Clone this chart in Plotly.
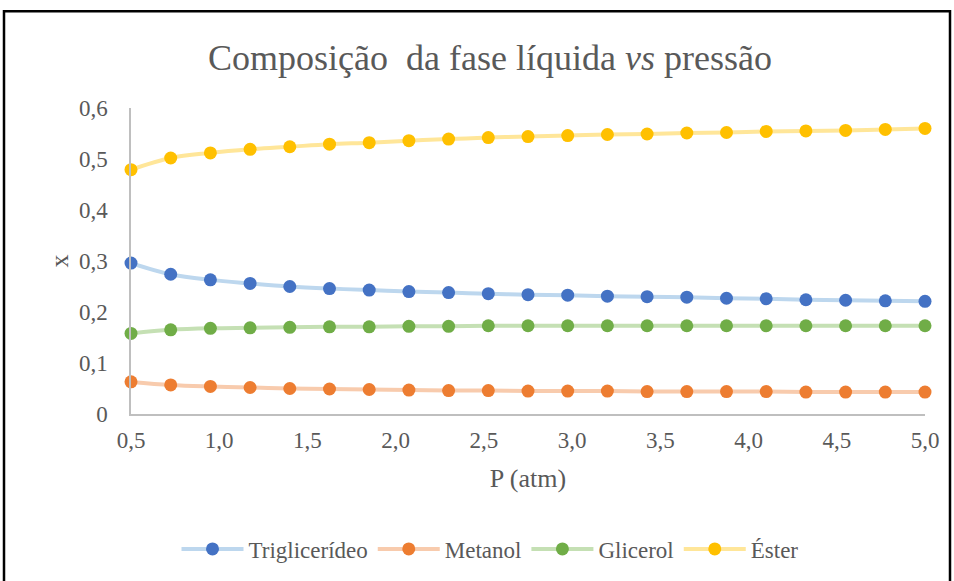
import plotly.graph_objects as go

pressao = [0.5, 0.725, 0.95, 1.175, 1.4, 1.625, 1.85, 2.075, 2.3, 2.525, 2.75,
           2.975, 3.2, 3.425, 3.65, 3.875, 4.1, 4.325, 4.55, 4.775, 5.0]
triglicerideo = [0.296, 0.274, 0.263, 0.256, 0.250, 0.246, 0.243, 0.240, 0.238, 0.236, 0.234,
                 0.233, 0.231, 0.230, 0.229, 0.227, 0.226, 0.224, 0.223, 0.222, 0.221]
metanol = [0.063, 0.057, 0.054, 0.052, 0.050, 0.049, 0.048, 0.047, 0.046, 0.046, 0.045,
           0.045, 0.045, 0.044, 0.044, 0.044, 0.044, 0.043, 0.043, 0.043, 0.043]
glicerol = [0.158, 0.165, 0.168, 0.169, 0.170, 0.171, 0.171, 0.172, 0.172, 0.173, 0.173,
            0.173, 0.173, 0.173, 0.173, 0.173, 0.173, 0.173, 0.173, 0.173, 0.173]
ester = [0.479, 0.502, 0.512, 0.519, 0.524, 0.529, 0.532, 0.536, 0.539, 0.542, 0.544,
         0.546, 0.548, 0.549, 0.551, 0.552, 0.554, 0.555, 0.556, 0.558, 0.560]

series = [
    ("Triglicerídeo", triglicerideo, "#4472C4", "#BDD7EE"),
    ("Metanol", metanol, "#ED7D31", "#F8CBAD"),
    ("Glicerol", glicerol, "#70AD47", "#C5E0B4"),
    ("Éster", ester, "#FFC000", "#FFE699"),
]

serif = "Liberation Serif"
gray = "#595959"

fig = go.Figure()
for name, vals, mc, lc in series:
    fig.add_trace(go.Scatter(
        x=pressao, y=vals, name=name, mode="lines+markers",
        line=dict(color=lc, width=4, shape="spline", smoothing=1),
        marker=dict(color=mc, size=13, line=dict(width=0)),
        cliponaxis=False,
    ))

W, H = 954, 581
L, R, T, B = 131, 29, 108, 166
pw, ph = W - L - R, H - T - B

def px(x):
    return (x - L) / pw

def py(y):
    return (H - B - y) / ph

fig.update_layout(
    width=W, height=H,
    margin=dict(l=L, r=R, t=T, b=B),
    paper_bgcolor="white", plot_bgcolor="white",
    separators=", ",
    font=dict(family=serif, color=gray, size=22),
    title=dict(text="Composição  da fase líquida <i>vs</i> pressão",
               x=490 / W, xanchor="center", y=1 - 57 / H, yanchor="middle",
               font=dict(family=serif, size=36, color=gray)),
    xaxis=dict(range=[0.5, 5.0], tickvals=[0.5, 1.0, 1.5, 2.0, 2.5, 3.0, 3.5, 4.0, 4.5, 5.0],
               tickformat=".1f", showgrid=False, zeroline=False,
               showline=True, linecolor="#BFBFBF", linewidth=1.5,
               ticks="", ticklabelstandoff=5,
               tickfont=dict(family=serif, size=23, color=gray),
               title=dict(text="P (atm)", standoff=16,
                          font=dict(family=serif, size=26, color=gray))),
    yaxis=dict(range=[0, 0.6], tickvals=[0, 0.1, 0.2, 0.3, 0.4, 0.5, 0.6],
               showgrid=False, zeroline=False,
               showline=True, linecolor="#BFBFBF", linewidth=1.5,
               ticks="", ticklabelstandoff=17,
               tickfont=dict(family=serif, size=23, color=gray),
               title=dict(text="x", standoff=3,
                          font=dict(family=serif, size=26, color=gray))),
    legend=dict(orientation="h", x=px(490), xanchor="center", y=py(549), yanchor="middle",
                font=dict(family=serif, size=23, color=gray), itemwidth=62,
                bgcolor="rgba(0,0,0,0)", traceorder="normal"),
    showlegend=True,
    shapes=[dict(type="rect", xref="paper", yref="paper",
                 x0=px(4), x1=px(950), y0=py(590), y1=py(11),
                 line=dict(color="black", width=2.5), fillcolor="rgba(0,0,0,0)",
                 layer="above")],
)

fig.write_html("out.html")
